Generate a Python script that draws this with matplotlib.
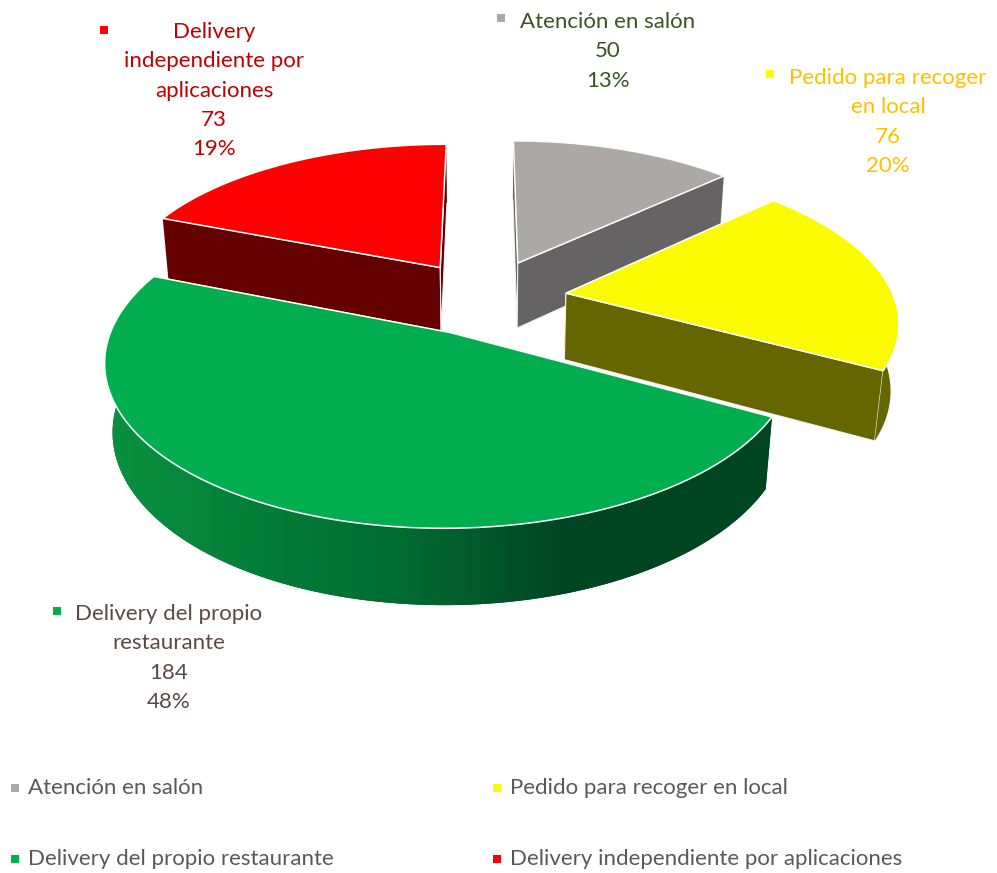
"""Exploded 3D pie of order channels, drawn as perspective polygons."""

import numpy as np
import matplotlib

matplotlib.use("Agg")
import matplotlib.pyplot as plt
from matplotlib.colors import to_rgb
from matplotlib.patches import Polygon

CATEGORIES = [
    "Atención en salón",
    "Pedido para recoger en local",
    "Delivery del propio restaurante",
    "Delivery independiente por aplicaciones",
]
VALUES = [50, 76, 184, 73]
TOP_COLORS = ["#ABA8A7", "#FBFB00", "#00AE4F", "#FF0000"]
WALL_COLORS = ["#656363", "#666600", "#004521", "#640000"]
LABEL_COLORS = ["#375623", "#FFC000", "#5B4A42", "#C00000"]
LABEL_LINES = [
    ["Atención en salón"],
    ["Pedido para recoger", "en local"],
    ["Delivery del propio", "restaurante"],
    ["Delivery", "independiente por", "aplicaciones"],
]
# layout, in image pixels
LABEL_X = [608, 888, 169, 214]
LABEL_Y = [22, 78, 614, 32]
LABEL_MARK = [(501, 18), (770, 74), (57, 611), (104, 30)]
LEGEND_POS = [(15, 788), (497, 788), (15, 859), (497, 859)]
EXPLODE = [0.26, 0.25, 0.242, 0.25]

CX, CY = 485.0, 298.0
SCALE_X, SCALE_Y = 328.0, 152.0
PERSPECTIVE = 0.16
HEIGHT = 68.0
FLOOR_SHRINK = 0.02
FONT = "Lato"
FONT_SIZE = 16
LINE_PITCH = 29.3
SHADE_STOPS = [107, 250, 400, 560, 1000]
SHADE_COLORS = ["#0A9140", "#037F38", "#006C30", "#004622", "#004521"]


def project(x, y, down=0.0):
    w = 1 + PERSPECTIVE * y + FLOOR_SHRINK * down
    return CX + SCALE_X * x / w, CY + (HEIGHT * down - SCALE_Y * y) / w


def shade_strip(width=997):
    colors = np.array([to_rgb(c) for c in SHADE_COLORS])
    px = np.arange(width)
    strip = [np.interp(px, SHADE_STOPS, colors[:, i]) for i in range(3)]
    return np.dstack(strip)


def draw_slice(ax, start, sweep, explode, top, wall, shaded):
    mid = np.radians(start + sweep / 2)
    ox, oy = explode * np.sin(mid), explode * np.cos(mid)
    angles = np.radians(np.linspace(start, start + sweep, 120))
    arc_x = ox + np.sin(angles)
    arc_y = oy + np.cos(angles)

    # radial faces first, the rim and the top go over them
    for ex, ey in [(arc_x[0], arc_y[0]), (arc_x[-1], arc_y[-1])]:
        face = [project(ox, oy), project(ex, ey), project(ex, ey, 1), project(ox, oy, 1)]
        ax.fill(*zip(*face), facecolor=wall, edgecolor="#F2F2F2", linewidth=0.8, zorder=2)

    upper = np.column_stack(project(arc_x, arc_y))
    lower = np.column_stack(project(arc_x, arc_y, 1))
    rim = Polygon(np.vstack([upper, lower[::-1]]), closed=True, facecolor=wall,
                  edgecolor="none", zorder=2)
    ax.add_patch(rim)
    if shaded:
        image = ax.imshow(shade_strip(), extent=(0, 997, 873, 0), aspect="auto", zorder=2)
        image.set_clip_path(rim)

    # white bevel line around the top surface
    top_x, top_y = project(np.r_[ox, arc_x], np.r_[oy, arc_y])
    ax.fill(top_x, top_y, facecolor=top, edgecolor="white", linewidth=1.1, zorder=2)


def main():
    fig = plt.figure(figsize=(9.97, 8.73), dpi=100)
    ax = fig.add_axes([0, 0, 1, 1])

    total = sum(VALUES)
    sweeps = [360 * v / total for v in VALUES]
    starts = np.r_[0, np.cumsum(sweeps)[:-1]]
    # far slices first
    for i in [0, 3, 1, 2]:
        draw_slice(ax, starts[i], sweeps[i], EXPLODE[i], TOP_COLORS[i], WALL_COLORS[i], i == 2)

    for i, lines in enumerate(LABEL_LINES):
        rows = lines + [str(VALUES[i]), f"{round(100 * VALUES[i] / total)}%"]
        for j, row in enumerate(rows):
            ax.text(LABEL_X[i], LABEL_Y[i] + j * LINE_PITCH, row, color=LABEL_COLORS[i],
                    family=FONT, fontsize=FONT_SIZE, ha="center", va="center")
        ax.scatter(*LABEL_MARK[i], marker="s", s=38, color=TOP_COLORS[i], linewidths=0)

    for i, (x, y) in enumerate(LEGEND_POS):
        ax.scatter(x, y, marker="s", s=38, color=TOP_COLORS[i], linewidths=0)
        ax.text(x + 13, y, CATEGORIES[i], color="#595959", family=FONT,
                fontsize=FONT_SIZE, ha="left", va="center")

    ax.set_xlim(0, 997)
    ax.set_ylim(873, 0)
    ax.axis("off")
    fig.savefig("out.png", dpi=100)


if __name__ == "__main__":
    main()
